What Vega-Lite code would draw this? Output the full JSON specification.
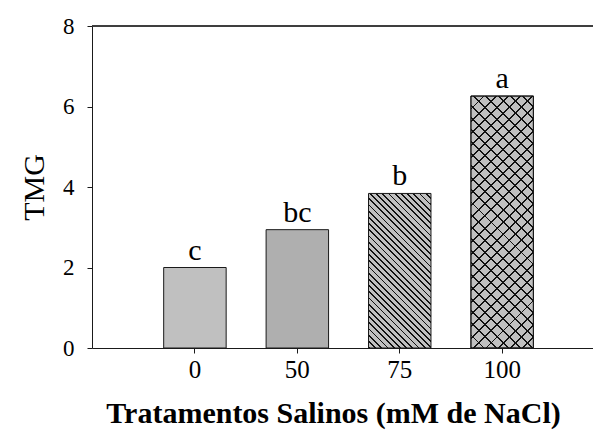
{
  "$schema": "https://vega.github.io/schema/vega-lite/v6.json",
  "autosize": {"type": "none"},
  "padding": {"left": 92, "top": 26, "right": 0, "bottom": 84},
  "width": 501,
  "height": 322,
  "background": "white",
  "config": {
    "font": "Liberation Serif",
    "view": {"stroke": null},
    "axis": {"domainColor": "#1a1a1a", "tickColor": "#1a1a1a", "labelColor": "black", "titleColor": "black", "grid": false, "labelFont": "Liberation Serif", "titleFont": "Liberation Serif"}
  },
  "data": {
    "values": [
      {"trat": "0", "tmg": 2.0, "letra": "c"},
      {"trat": "50", "tmg": 2.94, "letra": "bc"},
      {"trat": "75", "tmg": 3.84, "letra": "b"},
      {"trat": "100", "tmg": 6.26, "letra": "a"}
    ]
  },
  "layer": [
    {
      "encoding": {
        "x": {
          "field": "trat", "type": "ordinal", "sort": ["0", "50", "75", "100"],
          "scale": {"type": "band", "domain": ["0", "50", "75", "100"], "paddingInner": 0.39, "paddingOuter": 0.641, "align": 0.546},
          "axis": {"title": "Tratamentos Salinos (mM de NaCl)", "labelAngle": 0, "labelFontSize": 25, "labelPadding": 4, "tickSize": 5, "titleFontSize": 30, "titleFontWeight": "bold", "titleX": 241, "titleY": 74, "titleBaseline": "alphabetic", "titleAlign": "center"}
        },
        "y": {
          "field": "tmg", "type": "quantitative",
          "scale": {"domain": [0, 8], "nice": false},
          "axis": {"title": "TMG", "values": [0, 2, 4, 6, 8], "labelFontSize": 23, "labelPadding": 13, "tickSize": 5, "titleFontSize": 30, "titleFontWeight": "normal", "titleX": -49, "titleY": 161, "titleBaseline": "alphabetic", "titleAlign": "center", "titleAngle": -90}
        }
      },
      "layer": [
        {
          "transform": [{"filter": "datum.trat == '0'"}],
          "mark": {"type": "bar", "fill": "#c0c0c0", "stroke": "#1a1a1a", "strokeWidth": 1}
        },
        {
          "transform": [{"filter": "datum.trat == '50'"}],
          "mark": {"type": "bar", "fill": "#afafaf", "stroke": "#1a1a1a", "strokeWidth": 1}
        },
        {
          "transform": [{"filter": "datum.trat == '75'"}],
          "mark": {"type": "bar", "stroke": "#1a1a1a", "strokeWidth": 1,
            "fill": {"gradient": "linear", "x1": 0, "y1": 1, "x2": 0.4878, "y2": -0.207, "stops": [
              {"offset": 0, "color": "#111"}, {"offset": 0.00857, "color": "#111"}, {"offset": 0.00857, "color": "silver"}, {"offset": 0.02857, "color": "silver"},
              {"offset": 0.02857, "color": "#111"}, {"offset": 0.03714, "color": "#111"}, {"offset": 0.03714, "color": "silver"}, {"offset": 0.05714, "color": "silver"},
              {"offset": 0.05714, "color": "#111"}, {"offset": 0.06571, "color": "#111"}, {"offset": 0.06571, "color": "silver"}, {"offset": 0.08571, "color": "silver"},
              {"offset": 0.08571, "color": "#111"}, {"offset": 0.09429, "color": "#111"}, {"offset": 0.09429, "color": "silver"}, {"offset": 0.11429, "color": "silver"},
              {"offset": 0.11429, "color": "#111"}, {"offset": 0.12286, "color": "#111"}, {"offset": 0.12286, "color": "silver"}, {"offset": 0.14286, "color": "silver"},
              {"offset": 0.14286, "color": "#111"}, {"offset": 0.15143, "color": "#111"}, {"offset": 0.15143, "color": "silver"}, {"offset": 0.17143, "color": "silver"},
              {"offset": 0.17143, "color": "#111"}, {"offset": 0.18, "color": "#111"}, {"offset": 0.18, "color": "silver"}, {"offset": 0.2, "color": "silver"},
              {"offset": 0.2, "color": "#111"}, {"offset": 0.20857, "color": "#111"}, {"offset": 0.20857, "color": "silver"}, {"offset": 0.22857, "color": "silver"},
              {"offset": 0.22857, "color": "#111"}, {"offset": 0.23714, "color": "#111"}, {"offset": 0.23714, "color": "silver"}, {"offset": 0.25714, "color": "silver"},
              {"offset": 0.25714, "color": "#111"}, {"offset": 0.26571, "color": "#111"}, {"offset": 0.26571, "color": "silver"}, {"offset": 0.28571, "color": "silver"},
              {"offset": 0.28571, "color": "#111"}, {"offset": 0.29429, "color": "#111"}, {"offset": 0.29429, "color": "silver"}, {"offset": 0.31429, "color": "silver"},
              {"offset": 0.31429, "color": "#111"}, {"offset": 0.32286, "color": "#111"}, {"offset": 0.32286, "color": "silver"}, {"offset": 0.34286, "color": "silver"},
              {"offset": 0.34286, "color": "#111"}, {"offset": 0.35143, "color": "#111"}, {"offset": 0.35143, "color": "silver"}, {"offset": 0.37143, "color": "silver"},
              {"offset": 0.37143, "color": "#111"}, {"offset": 0.38, "color": "#111"}, {"offset": 0.38, "color": "silver"}, {"offset": 0.4, "color": "silver"},
              {"offset": 0.4, "color": "#111"}, {"offset": 0.40857, "color": "#111"}, {"offset": 0.40857, "color": "silver"}, {"offset": 0.42857, "color": "silver"},
              {"offset": 0.42857, "color": "#111"}, {"offset": 0.43714, "color": "#111"}, {"offset": 0.43714, "color": "silver"}, {"offset": 0.45714, "color": "silver"},
              {"offset": 0.45714, "color": "#111"}, {"offset": 0.46571, "color": "#111"}, {"offset": 0.46571, "color": "silver"}, {"offset": 0.48571, "color": "silver"},
              {"offset": 0.48571, "color": "#111"}, {"offset": 0.49429, "color": "#111"}, {"offset": 0.49429, "color": "silver"}, {"offset": 0.51429, "color": "silver"},
              {"offset": 0.51429, "color": "#111"}, {"offset": 0.52286, "color": "#111"}, {"offset": 0.52286, "color": "silver"}, {"offset": 0.54286, "color": "silver"},
              {"offset": 0.54286, "color": "#111"}, {"offset": 0.55143, "color": "#111"}, {"offset": 0.55143, "color": "silver"}, {"offset": 0.57143, "color": "silver"},
              {"offset": 0.57143, "color": "#111"}, {"offset": 0.58, "color": "#111"}, {"offset": 0.58, "color": "silver"}, {"offset": 0.6, "color": "silver"},
              {"offset": 0.6, "color": "#111"}, {"offset": 0.60857, "color": "#111"}, {"offset": 0.60857, "color": "silver"}, {"offset": 0.62857, "color": "silver"},
              {"offset": 0.62857, "color": "#111"}, {"offset": 0.63714, "color": "#111"}, {"offset": 0.63714, "color": "silver"}, {"offset": 0.65714, "color": "silver"},
              {"offset": 0.65714, "color": "#111"}, {"offset": 0.66571, "color": "#111"}, {"offset": 0.66571, "color": "silver"}, {"offset": 0.68571, "color": "silver"},
              {"offset": 0.68571, "color": "#111"}, {"offset": 0.69429, "color": "#111"}, {"offset": 0.69429, "color": "silver"}, {"offset": 0.71429, "color": "silver"},
              {"offset": 0.71429, "color": "#111"}, {"offset": 0.72286, "color": "#111"}, {"offset": 0.72286, "color": "silver"}, {"offset": 0.74286, "color": "silver"},
              {"offset": 0.74286, "color": "#111"}, {"offset": 0.75143, "color": "#111"}, {"offset": 0.75143, "color": "silver"}, {"offset": 0.77143, "color": "silver"},
              {"offset": 0.77143, "color": "#111"}, {"offset": 0.78, "color": "#111"}, {"offset": 0.78, "color": "silver"}, {"offset": 0.8, "color": "silver"},
              {"offset": 0.8, "color": "#111"}, {"offset": 0.80857, "color": "#111"}, {"offset": 0.80857, "color": "silver"}, {"offset": 0.82857, "color": "silver"},
              {"offset": 0.82857, "color": "#111"}, {"offset": 0.83714, "color": "#111"}, {"offset": 0.83714, "color": "silver"}, {"offset": 0.85714, "color": "silver"},
              {"offset": 0.85714, "color": "#111"}, {"offset": 0.86571, "color": "#111"}, {"offset": 0.86571, "color": "silver"}, {"offset": 0.88571, "color": "silver"},
              {"offset": 0.88571, "color": "#111"}, {"offset": 0.89429, "color": "#111"}, {"offset": 0.89429, "color": "silver"}, {"offset": 0.91429, "color": "silver"},
              {"offset": 0.91429, "color": "#111"}, {"offset": 0.92286, "color": "#111"}, {"offset": 0.92286, "color": "silver"}, {"offset": 0.94286, "color": "silver"},
              {"offset": 0.94286, "color": "#111"}, {"offset": 0.95143, "color": "#111"}, {"offset": 0.95143, "color": "silver"}, {"offset": 0.97143, "color": "silver"},
              {"offset": 0.97143, "color": "#111"}, {"offset": 0.98, "color": "#111"}, {"offset": 0.98, "color": "silver"}, {"offset": 1, "color": "silver"}
            ]}
          }
        },
        {
          "transform": [{"filter": "datum.trat == '100'"}],
          "mark": {"type": "bar", "stroke": "#1a1a1a", "strokeWidth": 1,
            "fill": {"gradient": "linear", "x1": 0, "y1": 1, "x2": 0.2915, "y2": -0.1757, "stops": [
              {"offset": 0, "color": "#111"}, {"offset": 0.00615, "color": "#111"}, {"offset": 0.00615, "color": "silver"}, {"offset": 0.03846, "color": "silver"},
              {"offset": 0.03846, "color": "#111"}, {"offset": 0.04462, "color": "#111"}, {"offset": 0.04462, "color": "silver"}, {"offset": 0.07692, "color": "silver"},
              {"offset": 0.07692, "color": "#111"}, {"offset": 0.08308, "color": "#111"}, {"offset": 0.08308, "color": "silver"}, {"offset": 0.11538, "color": "silver"},
              {"offset": 0.11538, "color": "#111"}, {"offset": 0.12154, "color": "#111"}, {"offset": 0.12154, "color": "silver"}, {"offset": 0.15385, "color": "silver"},
              {"offset": 0.15385, "color": "#111"}, {"offset": 0.16, "color": "#111"}, {"offset": 0.16, "color": "silver"}, {"offset": 0.19231, "color": "silver"},
              {"offset": 0.19231, "color": "#111"}, {"offset": 0.19846, "color": "#111"}, {"offset": 0.19846, "color": "silver"}, {"offset": 0.23077, "color": "silver"},
              {"offset": 0.23077, "color": "#111"}, {"offset": 0.23692, "color": "#111"}, {"offset": 0.23692, "color": "silver"}, {"offset": 0.26923, "color": "silver"},
              {"offset": 0.26923, "color": "#111"}, {"offset": 0.27538, "color": "#111"}, {"offset": 0.27538, "color": "silver"}, {"offset": 0.30769, "color": "silver"},
              {"offset": 0.30769, "color": "#111"}, {"offset": 0.31385, "color": "#111"}, {"offset": 0.31385, "color": "silver"}, {"offset": 0.34615, "color": "silver"},
              {"offset": 0.34615, "color": "#111"}, {"offset": 0.35231, "color": "#111"}, {"offset": 0.35231, "color": "silver"}, {"offset": 0.38462, "color": "silver"},
              {"offset": 0.38462, "color": "#111"}, {"offset": 0.39077, "color": "#111"}, {"offset": 0.39077, "color": "silver"}, {"offset": 0.42308, "color": "silver"},
              {"offset": 0.42308, "color": "#111"}, {"offset": 0.42923, "color": "#111"}, {"offset": 0.42923, "color": "silver"}, {"offset": 0.46154, "color": "silver"},
              {"offset": 0.46154, "color": "#111"}, {"offset": 0.46769, "color": "#111"}, {"offset": 0.46769, "color": "silver"}, {"offset": 0.5, "color": "silver"},
              {"offset": 0.5, "color": "#111"}, {"offset": 0.50615, "color": "#111"}, {"offset": 0.50615, "color": "silver"}, {"offset": 0.53846, "color": "silver"},
              {"offset": 0.53846, "color": "#111"}, {"offset": 0.54462, "color": "#111"}, {"offset": 0.54462, "color": "silver"}, {"offset": 0.57692, "color": "silver"},
              {"offset": 0.57692, "color": "#111"}, {"offset": 0.58308, "color": "#111"}, {"offset": 0.58308, "color": "silver"}, {"offset": 0.61538, "color": "silver"},
              {"offset": 0.61538, "color": "#111"}, {"offset": 0.62154, "color": "#111"}, {"offset": 0.62154, "color": "silver"}, {"offset": 0.65385, "color": "silver"},
              {"offset": 0.65385, "color": "#111"}, {"offset": 0.66, "color": "#111"}, {"offset": 0.66, "color": "silver"}, {"offset": 0.69231, "color": "silver"},
              {"offset": 0.69231, "color": "#111"}, {"offset": 0.69846, "color": "#111"}, {"offset": 0.69846, "color": "silver"}, {"offset": 0.73077, "color": "silver"},
              {"offset": 0.73077, "color": "#111"}, {"offset": 0.73692, "color": "#111"}, {"offset": 0.73692, "color": "silver"}, {"offset": 0.76923, "color": "silver"},
              {"offset": 0.76923, "color": "#111"}, {"offset": 0.77538, "color": "#111"}, {"offset": 0.77538, "color": "silver"}, {"offset": 0.80769, "color": "silver"},
              {"offset": 0.80769, "color": "#111"}, {"offset": 0.81385, "color": "#111"}, {"offset": 0.81385, "color": "silver"}, {"offset": 0.84615, "color": "silver"},
              {"offset": 0.84615, "color": "#111"}, {"offset": 0.85231, "color": "#111"}, {"offset": 0.85231, "color": "silver"}, {"offset": 0.88462, "color": "silver"},
              {"offset": 0.88462, "color": "#111"}, {"offset": 0.89077, "color": "#111"}, {"offset": 0.89077, "color": "silver"}, {"offset": 0.92308, "color": "silver"},
              {"offset": 0.92308, "color": "#111"}, {"offset": 0.92923, "color": "#111"}, {"offset": 0.92923, "color": "silver"}, {"offset": 0.96154, "color": "silver"},
              {"offset": 0.96154, "color": "#111"}, {"offset": 0.96769, "color": "#111"}, {"offset": 0.96769, "color": "silver"}, {"offset": 1, "color": "silver"}
            ]}
          }
        },
        {
          "transform": [{"filter": "datum.trat == '100'"}],
          "mark": {"type": "bar", "stroke": "#1a1a1a", "strokeWidth": 1,
            "fill": {"gradient": "linear", "x1": 0, "y1": 0, "x2": 0.2915, "y2": 1.1757, "stops": [
              {"offset": 0, "color": "#111"}, {"offset": 0.00615, "color": "#111"}, {"offset": 0.00615, "color": "rgba(0,0,0,0)"}, {"offset": 0.03846, "color": "rgba(0,0,0,0)"},
              {"offset": 0.03846, "color": "#111"}, {"offset": 0.04462, "color": "#111"}, {"offset": 0.04462, "color": "rgba(0,0,0,0)"}, {"offset": 0.07692, "color": "rgba(0,0,0,0)"},
              {"offset": 0.07692, "color": "#111"}, {"offset": 0.08308, "color": "#111"}, {"offset": 0.08308, "color": "rgba(0,0,0,0)"}, {"offset": 0.11538, "color": "rgba(0,0,0,0)"},
              {"offset": 0.11538, "color": "#111"}, {"offset": 0.12154, "color": "#111"}, {"offset": 0.12154, "color": "rgba(0,0,0,0)"}, {"offset": 0.15385, "color": "rgba(0,0,0,0)"},
              {"offset": 0.15385, "color": "#111"}, {"offset": 0.16, "color": "#111"}, {"offset": 0.16, "color": "rgba(0,0,0,0)"}, {"offset": 0.19231, "color": "rgba(0,0,0,0)"},
              {"offset": 0.19231, "color": "#111"}, {"offset": 0.19846, "color": "#111"}, {"offset": 0.19846, "color": "rgba(0,0,0,0)"}, {"offset": 0.23077, "color": "rgba(0,0,0,0)"},
              {"offset": 0.23077, "color": "#111"}, {"offset": 0.23692, "color": "#111"}, {"offset": 0.23692, "color": "rgba(0,0,0,0)"}, {"offset": 0.26923, "color": "rgba(0,0,0,0)"},
              {"offset": 0.26923, "color": "#111"}, {"offset": 0.27538, "color": "#111"}, {"offset": 0.27538, "color": "rgba(0,0,0,0)"}, {"offset": 0.30769, "color": "rgba(0,0,0,0)"},
              {"offset": 0.30769, "color": "#111"}, {"offset": 0.31385, "color": "#111"}, {"offset": 0.31385, "color": "rgba(0,0,0,0)"}, {"offset": 0.34615, "color": "rgba(0,0,0,0)"},
              {"offset": 0.34615, "color": "#111"}, {"offset": 0.35231, "color": "#111"}, {"offset": 0.35231, "color": "rgba(0,0,0,0)"}, {"offset": 0.38462, "color": "rgba(0,0,0,0)"},
              {"offset": 0.38462, "color": "#111"}, {"offset": 0.39077, "color": "#111"}, {"offset": 0.39077, "color": "rgba(0,0,0,0)"}, {"offset": 0.42308, "color": "rgba(0,0,0,0)"},
              {"offset": 0.42308, "color": "#111"}, {"offset": 0.42923, "color": "#111"}, {"offset": 0.42923, "color": "rgba(0,0,0,0)"}, {"offset": 0.46154, "color": "rgba(0,0,0,0)"},
              {"offset": 0.46154, "color": "#111"}, {"offset": 0.46769, "color": "#111"}, {"offset": 0.46769, "color": "rgba(0,0,0,0)"}, {"offset": 0.5, "color": "rgba(0,0,0,0)"},
              {"offset": 0.5, "color": "#111"}, {"offset": 0.50615, "color": "#111"}, {"offset": 0.50615, "color": "rgba(0,0,0,0)"}, {"offset": 0.53846, "color": "rgba(0,0,0,0)"},
              {"offset": 0.53846, "color": "#111"}, {"offset": 0.54462, "color": "#111"}, {"offset": 0.54462, "color": "rgba(0,0,0,0)"}, {"offset": 0.57692, "color": "rgba(0,0,0,0)"},
              {"offset": 0.57692, "color": "#111"}, {"offset": 0.58308, "color": "#111"}, {"offset": 0.58308, "color": "rgba(0,0,0,0)"}, {"offset": 0.61538, "color": "rgba(0,0,0,0)"},
              {"offset": 0.61538, "color": "#111"}, {"offset": 0.62154, "color": "#111"}, {"offset": 0.62154, "color": "rgba(0,0,0,0)"}, {"offset": 0.65385, "color": "rgba(0,0,0,0)"},
              {"offset": 0.65385, "color": "#111"}, {"offset": 0.66, "color": "#111"}, {"offset": 0.66, "color": "rgba(0,0,0,0)"}, {"offset": 0.69231, "color": "rgba(0,0,0,0)"},
              {"offset": 0.69231, "color": "#111"}, {"offset": 0.69846, "color": "#111"}, {"offset": 0.69846, "color": "rgba(0,0,0,0)"}, {"offset": 0.73077, "color": "rgba(0,0,0,0)"},
              {"offset": 0.73077, "color": "#111"}, {"offset": 0.73692, "color": "#111"}, {"offset": 0.73692, "color": "rgba(0,0,0,0)"}, {"offset": 0.76923, "color": "rgba(0,0,0,0)"},
              {"offset": 0.76923, "color": "#111"}, {"offset": 0.77538, "color": "#111"}, {"offset": 0.77538, "color": "rgba(0,0,0,0)"}, {"offset": 0.80769, "color": "rgba(0,0,0,0)"},
              {"offset": 0.80769, "color": "#111"}, {"offset": 0.81385, "color": "#111"}, {"offset": 0.81385, "color": "rgba(0,0,0,0)"}, {"offset": 0.84615, "color": "rgba(0,0,0,0)"},
              {"offset": 0.84615, "color": "#111"}, {"offset": 0.85231, "color": "#111"}, {"offset": 0.85231, "color": "rgba(0,0,0,0)"}, {"offset": 0.88462, "color": "rgba(0,0,0,0)"},
              {"offset": 0.88462, "color": "#111"}, {"offset": 0.89077, "color": "#111"}, {"offset": 0.89077, "color": "rgba(0,0,0,0)"}, {"offset": 0.92308, "color": "rgba(0,0,0,0)"},
              {"offset": 0.92308, "color": "#111"}, {"offset": 0.92923, "color": "#111"}, {"offset": 0.92923, "color": "rgba(0,0,0,0)"}, {"offset": 0.96154, "color": "rgba(0,0,0,0)"},
              {"offset": 0.96154, "color": "#111"}, {"offset": 0.96769, "color": "#111"}, {"offset": 0.96769, "color": "rgba(0,0,0,0)"}, {"offset": 1, "color": "rgba(0,0,0,0)"}
            ]}
          }
        },
        {
          "mark": {"type": "text", "font": "Liberation Serif", "fontSize": 30, "baseline": "alphabetic", "align": "center", "dy": -8, "color": "black"},
          "encoding": {"text": {"field": "letra"}}
        }
      ]
    },
    {
      "mark": {"type": "rule", "color": "#333", "strokeWidth": 1},
      "encoding": {"y": {"datum": 8, "type": "quantitative"}}
    }
  ]
}
